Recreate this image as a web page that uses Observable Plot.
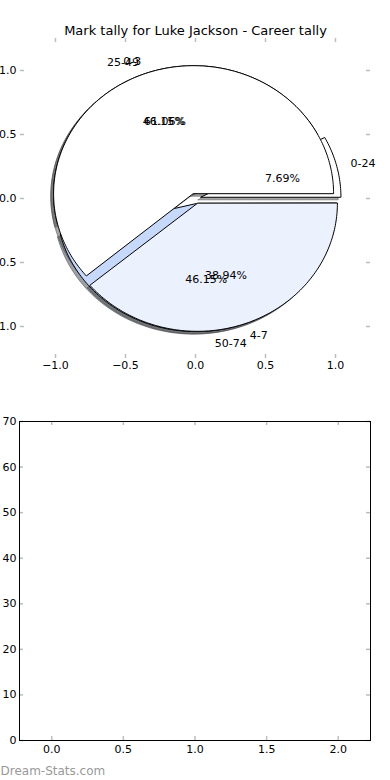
<!DOCTYPE html>
<html><head><meta charset="utf-8">
<script src="https://cdn.jsdelivr.net/npm/d3@7"></script>
<script src="https://cdn.jsdelivr.net/npm/@observablehq/plot@0.6"></script>
<style>body{margin:0;background:#fff;} svg{display:block}</style>
</head><body><div id="c"></div>
<script>
const title = "Mark tally for Luke Jackson - Career tally";
const pieALabels = ["0-24", "25-49", "50-74"];
const pieAValues = [7.69, 46.15, 46.15];
const pieAColors = ["#ffffff", "#ffffff", "#c6d9fb"];
const pieBLabels = ["0-3", "4-7"];
const pieBValues = [61.06, 38.94];
const pieBColors = ["#ffffff", "#ebf1fd"];
const explode = 0.04;
const pieTicks = [-1, -0.5, 0, 0.5, 1];
const barXTicks = [0, 0.5, 1, 1.5, 2];
const barYTicks = [0, 10, 20, 30, 40, 50, 60, 70];
const watermark = "Dream-Stats.com";

const FONT = "DejaVu Sans";
const TICK = "#bdbdbd";

function buildWedges(labels, values, colors, pie) {
  const total = d3.sum(values);
  let a = 0;
  return values.map((v, i) => {
    const a1 = a, a2 = a + v / total * 360; a = a2;
    const am = (a1 + a2) / 2 * Math.PI / 180;
    const cx = explode * Math.cos(am), cy = explode * Math.sin(am);
    const pts = [{x: cx, y: cy}];
    const n = Math.max(2, Math.ceil(a2 - a1));
    for (let k = 0; k <= n; k++) {
      const t = (a1 + (a2 - a1) * k / n) * Math.PI / 180;
      pts.push({x: cx + Math.cos(t), y: cy + Math.sin(t)});
    }
    const c = d3.rgb(colors[i]);
    const shade = d3.rgb(c.r * 0.3, c.g * 0.3, c.b * 0.3).formatHex();
    return {
      id: pie + i, label: labels[i], pct: (100 * v / total).toFixed(2) + "%",
      color: colors[i], shade, pts,
      lx: cx + 1.1 * Math.cos(am), ly: cy + 1.1 * Math.sin(am),
      px: cx + 0.6 * Math.cos(am), py: cy + 0.6 * Math.sin(am)
    };
  });
}

const wA = buildWedges(pieALabels, pieAValues, pieAColors, "A");
const wB = buildWedges(pieBLabels, pieBValues, pieBColors, "B");
const all = [...wA, ...wB];

const W = 390, H1 = 390;
const m1 = {top: 38, bottom: 32, left: 20, right: 20};
const fh1 = H1 - m1.top - m1.bottom, fw1 = W - m1.left - m1.right;

const shadowMarks = all.map(w => Plot.line(w.pts, {
  x: d => d.x - 0.02, y: d => d.y - 0.02, curve: "linear-closed",
  fill: w.shade, fillOpacity: 0.5, stroke: w.shade, strokeOpacity: 0.5, strokeWidth: 1
}));
const wedgeMarks = all.map(w => Plot.line(w.pts, {
  x: "x", y: "y", curve: "linear-closed",
  fill: w.color, stroke: "black", strokeWidth: 1, strokeLinejoin: "miter"
}));

const pie = Plot.plot({
  width: W, height: H1,
  marginTop: m1.top, marginBottom: m1.bottom, marginLeft: m1.left, marginRight: m1.right,
  style: {fontFamily: FONT, fontSize: "11px", background: "white", color: "black", overflow: "visible"},
  x: {domain: [-1.25, 1.25], ticks: pieTicks, tickFormat: ".1f", tickSize: 0, tickPadding: 3, label: null},
  y: {domain: [-1.25, 1.25], ticks: pieTicks, tickFormat: ".1f", tickSize: 0, tickPadding: 4, label: null},
  marks: [
    Plot.ruleX(pieTicks, {x: d => d, stroke: TICK, strokeWidth: 1.5, insetBottom: fh1 - 4}),
    Plot.ruleX(pieTicks, {x: d => d, stroke: TICK, strokeWidth: 1.5, insetTop: fh1 - 4}),
    Plot.ruleY(pieTicks, {y: d => d, stroke: TICK, strokeWidth: 1.5, insetRight: fw1 - 4}),
    Plot.ruleY(pieTicks, {y: d => d, stroke: TICK, strokeWidth: 1.5, insetLeft: fw1 - 4}),
    ...shadowMarks,
    ...wedgeMarks,
    Plot.text(all.filter(w => w.lx > 0), {x: "lx", y: "ly", text: "label", textAnchor: "start", fontSize: 11, fill: "black"}),
    Plot.text(all.filter(w => w.lx <= 0), {x: "lx", y: "ly", text: "label", textAnchor: "end", fontSize: 11, fill: "black"}),
    Plot.text(all, {x: "px", y: "py", text: "pct", textAnchor: "middle", fontSize: 11, fill: "black"}),
    Plot.text([title], {frameAnchor: "top", lineAnchor: "middle", dy: -8, text: d => d, fontSize: 13, fill: "black"})
  ]
});

const H2 = 390;
const m2 = {top: 31, bottom: 40, left: 19, right: 20};
const fh2 = H2 - m2.top - m2.bottom, fw2 = W - m2.left - m2.right;

const bar = Plot.plot({
  width: W, height: H2,
  marginTop: m2.top, marginBottom: m2.bottom, marginLeft: m2.left, marginRight: m2.right,
  style: {fontFamily: FONT, fontSize: "11px", background: "white", color: "black", overflow: "visible"},
  x: {domain: [-0.225, 2.225], ticks: barXTicks, tickFormat: ".1f", tickSize: 0, tickPadding: 5, label: null},
  y: {domain: [0, 70], ticks: barYTicks, tickFormat: "d", tickSize: 0, tickPadding: 3, label: null},
  marks: [
    Plot.ruleX(barXTicks, {x: d => d, stroke: TICK, strokeWidth: 1.5, insetBottom: fh2 - 4}),
    Plot.ruleX(barXTicks, {x: d => d, stroke: TICK, strokeWidth: 1.5, insetTop: fh2 - 4}),
    Plot.ruleY(barYTicks, {y: d => d, stroke: TICK, strokeWidth: 1.5, insetRight: fw2 - 4}),
    Plot.ruleY(barYTicks, {y: d => d, stroke: TICK, strokeWidth: 1.5, insetLeft: fw2 - 4}),
    Plot.frame({stroke: "black", strokeWidth: 1}),
    Plot.text([watermark], {frameAnchor: "bottom-left", lineAnchor: "middle", dx: -m2.left, dy: 31, text: d => d, textAnchor: "start", fontSize: 12, fill: "#999999"})
  ]
});

const c = document.getElementById("c");
c.appendChild(pie);
c.appendChild(bar);
</script>
</body></html>
